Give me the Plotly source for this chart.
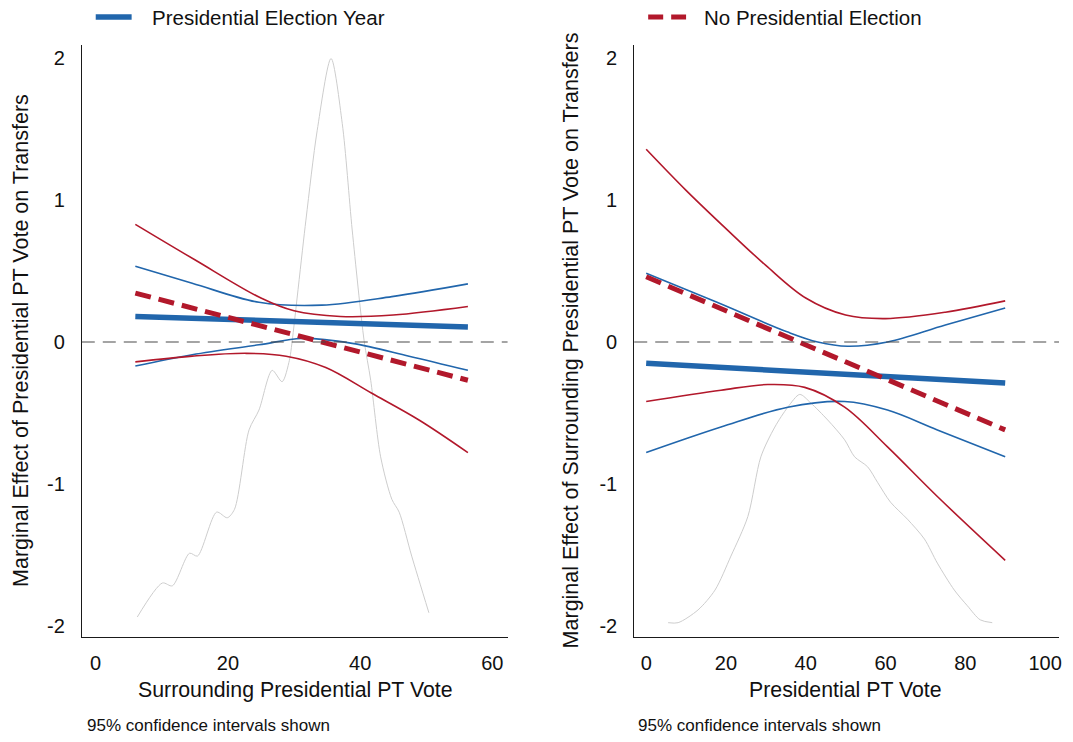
import plotly.graph_objects as go

W, H = 1073, 742

# ---- left panel: x = surrounding presidential PT vote ----
left_main_x = [6.0, 56.3]
left_pres_y = [0.18, 0.105]
left_nopres_y = [0.345, -0.27]

left_pres_hi_x = [6.0, 14.6, 24.7, 34.2, 44.8, 56.3]
left_pres_hi_y = [0.535, 0.415, 0.28, 0.26, 0.32, 0.41]
left_pres_lo_x = [6.0, 14.6, 24.7, 31.2, 38.8, 47.4, 56.3]
left_pres_lo_y = [-0.17, -0.09, -0.02, 0.025, -0.01, -0.10, -0.20]

left_nopres_hi_x = [6.0, 15.0, 25.0, 30.0, 37.0, 45.0, 56.3]
left_nopres_hi_y = [0.83, 0.58, 0.31, 0.22, 0.18, 0.19, 0.25]
left_nopres_lo_x = [6.0, 14.6, 22.8, 28.8, 34.8, 41.7, 48.9, 56.3]
left_nopres_lo_y = [-0.14, -0.10, -0.08, -0.10, -0.18, -0.36, -0.55, -0.78]

left_dens_x = [6.3, 10.1, 11.6, 14.2, 15.4, 18.3, 19.9, 21.0, 23.2, 24.7, 26.7,
               28.2, 29.3, 29.6, 31.8, 33.5, 35.6, 37.3, 38.8, 40.6, 41.6, 43.1,
               44.8, 45.9, 47.8, 50.4]
left_dens_y = [-1.94, -1.70, -1.72, -1.49, -1.51, -1.20, -1.24, -1.18, -0.62, -0.48,
               -0.20, -0.28, -0.13, -0.04, 0.86, 1.49, 2.00, 1.54, 0.79, 0.01, -0.27,
               -0.81, -1.11, -1.20, -1.51, -1.91]

# ---- right panel: x = presidential PT vote ----
right_main_x = [0, 90]
right_pres_y = [-0.15, -0.29]
right_nopres_y = [0.46, -0.62]

right_pres_hi_x = [0, 17.75, 35.5, 43, 50.5, 60.5, 75, 90]
right_pres_hi_y = [0.485, 0.28, 0.07, 0.0, -0.03, 0.0, 0.12, 0.24]
right_pres_lo_x = [0, 18.75, 35.5, 49.75, 60.5, 73, 90]
right_pres_lo_y = [-0.78, -0.60, -0.46, -0.42, -0.48, -0.62, -0.81]

right_nopres_hi_x = [0, 10, 20, 30, 40, 50, 60, 75, 90]
right_nopres_hi_y = [1.36, 1.07, 0.80, 0.54, 0.31, 0.19, 0.165, 0.21, 0.29]
right_nopres_lo_x = [0, 18.75, 30.5, 39.75, 49.75, 60.5, 73, 90]
right_nopres_lo_y = [-0.42, -0.34, -0.30, -0.32, -0.46, -0.74, -1.09, -1.54]

right_dens_x = [5.5, 8.0, 13, 17.25, 21.25, 25.5, 28.75, 32.25, 35.5, 38.5, 41.25,
                45.5, 49.75, 52.25, 55.5, 58, 61.25, 65.5, 69.75, 73, 77.25, 80.5,
                83.75, 86.75]
right_dens_y = [-1.98, -1.98, -1.89, -1.75, -1.51, -1.23, -0.81, -0.60, -0.46, -0.37,
                -0.43, -0.55, -0.69, -0.81, -0.88, -0.99, -1.13, -1.25, -1.39, -1.56,
                -1.75, -1.86, -1.96, -1.98]

y_ticks = [-2, -1, 0, 1, 2]
y_tick_text = ["-2", "-1", "0", "1", "2"]
left_x_ticks = [0, 20, 40, 60]
right_x_ticks = [0, 20, 40, 60, 80, 100]

legend_labels = ["Presidential Election Year", "No Presidential Election"]
left_xtitle = "Surrounding Presidential PT Vote"
right_xtitle = "Presidential PT Vote"
left_ytitle = "Marginal Effect of Presidential PT Vote on Transfers"
right_ytitle = "Marginal Effect of Surrounding Presidential PT Vote on Transfers"
note = "95% confidence intervals shown"

BLUE = "#2166AC"
RED = "#B2182B"
GRAY = "#CDCDCD"
FONT = "Liberation Sans, Arial, Helvetica, sans-serif"
INK = "#111111"


def px(x):
    return x / W


def py(y):
    return 1 - y / H


fig = go.Figure()


def add_panel(xa, ya, dx, dy, mx, py_, ny, phx, phy, plx, ply, nhx, nhy, nlx, nly):
    kw = dict(xaxis=xa, yaxis=ya, showlegend=False, hoverinfo="skip", mode="lines")
    fig.add_trace(go.Scatter(x=dx, y=dy, line=dict(color=GRAY, width=1, shape="spline", smoothing=0.8), **kw))
    fig.add_trace(go.Scatter(x=phx, y=phy, line=dict(color=BLUE, width=1.6, shape="spline"), **kw))
    fig.add_trace(go.Scatter(x=plx, y=ply, line=dict(color=BLUE, width=1.6, shape="spline"), **kw))
    fig.add_trace(go.Scatter(x=nhx, y=nhy, line=dict(color=RED, width=1.6, shape="spline"), **kw))
    fig.add_trace(go.Scatter(x=nlx, y=nly, line=dict(color=RED, width=1.6, shape="spline"), **kw))
    fig.add_trace(go.Scatter(x=mx, y=py_, line=dict(color=BLUE, width=5.5), **kw))
    fig.add_trace(go.Scatter(x=mx, y=ny, line=dict(color=RED, width=5, dash="16px,8px"), **kw))


add_panel("x", "y", left_dens_x, left_dens_y, left_main_x, left_pres_y, left_nopres_y,
          left_pres_hi_x, left_pres_hi_y, left_pres_lo_x, left_pres_lo_y,
          left_nopres_hi_x, left_nopres_hi_y, left_nopres_lo_x, left_nopres_lo_y)
add_panel("x2", "y2", right_dens_x, right_dens_y, right_main_x, right_pres_y, right_nopres_y,
          right_pres_hi_x, right_pres_hi_y, right_pres_lo_x, right_pres_lo_y,
          right_nopres_hi_x, right_nopres_hi_y, right_nopres_lo_x, right_nopres_lo_y)

ydom = [py(637), py(45)]
yrange = [-2.081, 2.095]
axis_common = dict(showgrid=False, zeroline=False, showline=True, linecolor="#1a1a1a",
                   linewidth=1, ticks="", tickfont=dict(family=FONT, size=20, color=INK))

fig.update_layout(
    width=W, height=H,
    margin=dict(l=0, r=0, t=0, b=0),
    paper_bgcolor="white", plot_bgcolor="white",
    font=dict(family=FONT, color=INK),
    xaxis=dict(domain=[px(82), px(509)], range=[-2.1, 62.3], tickvals=left_x_ticks,
               ticklabelstandoff=8, **axis_common),
    yaxis=dict(domain=ydom, range=yrange, tickvals=y_ticks, ticktext=y_tick_text, anchor="x",
               ticklabelstandoff=12, **axis_common),
    xaxis2=dict(domain=[px(636), px(1062)], range=[-3, 103.5], tickvals=right_x_ticks,
                anchor="y2", ticklabelstandoff=8, **axis_common),
    yaxis2=dict(domain=ydom, range=yrange, tickvals=y_ticks, ticktext=y_tick_text, anchor="x2",
                ticklabelstandoff=12, **axis_common),
)

# zero reference lines
zero_dash = dict(color="#4a4a4a", width=1.2, dash="13px,8px")
fig.add_shape(type="line", xref="x domain", yref="y", x0=0, x1=1, y0=0, y1=0, line=zero_dash)
fig.add_shape(type="line", xref="x2 domain", yref="y2", x0=0, x1=1, y0=0, y1=0, line=zero_dash)

# legend keys drawn above each panel
fig.add_shape(type="line", xref="paper", yref="paper", x0=px(96), x1=px(132), y0=py(17), y1=py(17),
              line=dict(color=BLUE, width=5.5))
fig.add_shape(type="line", xref="paper", yref="paper", x0=px(650), x1=px(688), y0=py(17), y1=py(17),
              line=dict(color=RED, width=5, dash="15px,8px"))

annots = [
    dict(x=px(150), y=py(18), text=legend_labels[0], xanchor="left", size=20.5),
    dict(x=px(704), y=py(18), text=legend_labels[1], xanchor="left", size=20.5),
    dict(x=px(296), y=py(690), text=left_xtitle, xanchor="center", size=21.3),
    dict(x=px(848), y=py(690), text=right_xtitle, xanchor="center", size=21.3),
    dict(x=px(85), y=py(725), text=note, xanchor="left", size=17),
    dict(x=px(638), y=py(725), text=note, xanchor="left", size=17),
]
for a in annots:
    fig.add_annotation(xref="paper", yref="paper", x=a["x"], y=a["y"], text=a["text"],
                       xanchor=a["xanchor"], yanchor="middle", showarrow=False,
                       font=dict(family=FONT, size=a["size"], color=INK))

for xc, txt in [(21, left_ytitle), (573, right_ytitle)]:
    fig.add_annotation(xref="paper", yref="paper", x=px(xc), y=py(340), text=txt,
                       textangle=-90, xanchor="center", yanchor="middle", showarrow=False,
                       font=dict(family=FONT, size=21.5, color=INK))

fig.write_html("out.html")
